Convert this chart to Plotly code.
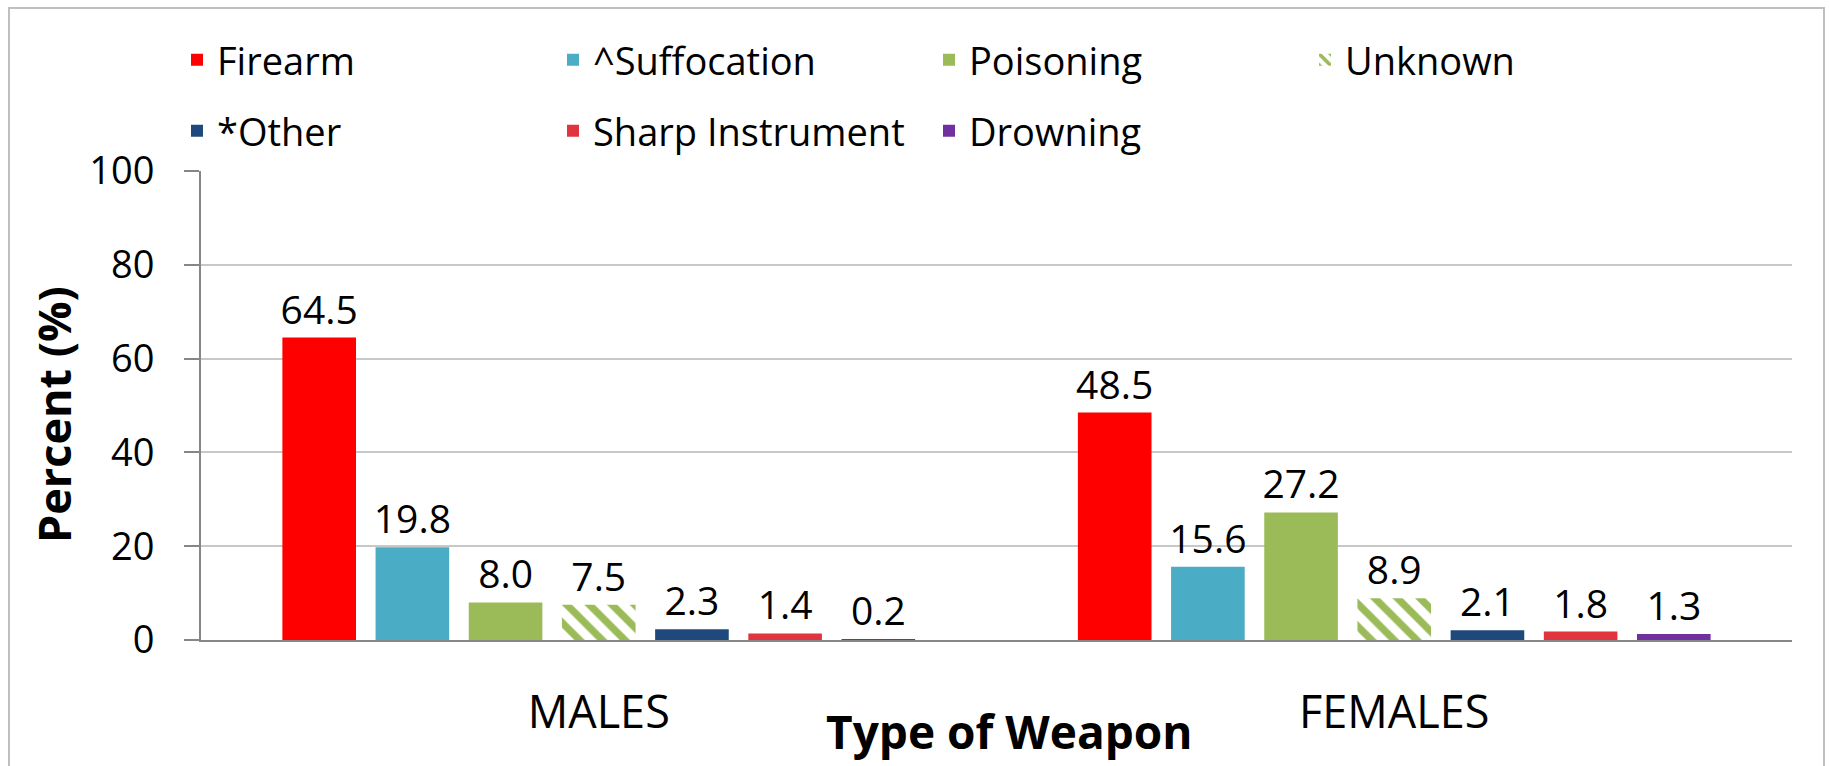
import plotly.graph_objects as go

categories = ["MALES", "FEMALES"]
series_names = ["Firearm", "^Suffocation", "Poisoning", "Unknown", "*Other", "Sharp Instrument", "Drowning"]
firearm = [64.5, 48.5]
suffocation = [19.8, 15.6]
poisoning = [8.0, 27.2]
unknown = [7.5, 8.9]
other = [2.3, 2.1]
sharp = [1.4, 1.8]
drowning = [0.2, 1.3]
values = [firearm, suffocation, poisoning, unknown, other, sharp, drowning]
colors = ["#FF0000", "#4BACC6", "#9BBB59", "#9BBB59", "#1F497D", "#E0343F", "#7030A0"]
legend_rows = ["legend", "legend", "legend", "legend", "legend2", "legend2", "legend2"]
y_ticks = [0, 20, 40, 60, 80, 100]

W, H = 1829, 766
ML, MR, MT, MB = 201, 37, 171, 126
PW, PH = W - ML - MR, H - MT - MB

def px_x(p):
    return (p - ML) / PW

def px_y(p):
    return (H - MB - p) / PH

FONT = "Open Sans"

fig = go.Figure()
for name, vals, col, lg in zip(series_names, values, colors, legend_rows):
    marker = dict(color=col, line=dict(width=0))
    if name == "Unknown":
        marker = dict(color="white", line=dict(width=0),
                      pattern=dict(shape="\\", fgcolor=col, bgcolor="white", fgopacity=1,
                                   size=16, solidity=0.45, fillmode="overlay"))
    fig.add_trace(go.Bar(
        name=name, x=categories, y=vals, marker=marker,
        text=[f"{v:.1f}" for v in vals], textposition="outside",
        textfont=dict(size=39, color="black", family=FONT),
        constraintext="none", cliponaxis=False, legend=lg,
    ))

legend_common = dict(orientation="h", xanchor="left", yanchor="middle",
                     entrywidth=331, entrywidthmode="pixels",
                     font=dict(size=38, color="black", family=FONT),
                     bgcolor="rgba(0,0,0,0)", borderwidth=0, traceorder="normal")

fig.update_layout(
    width=W, height=H,
    margin=dict(l=ML, r=MR, t=MT, b=MB, pad=0),
    paper_bgcolor="white", plot_bgcolor="white",
    barmode="group", bargap=0.18, bargroupgap=0.21,
    font=dict(family=FONT, color="black"),
    showlegend=True,
    legend=dict(x=px_x(177), y=px_y(60), **legend_common),
    legend2=dict(x=px_x(177), y=px_y(131), **legend_common),
    xaxis=dict(showline=True, linecolor="#868686", linewidth=2, ticks="",
               showgrid=False, zeroline=False,
               tickfont=dict(size=45, color="black", family=FONT),
               ticklabelstandoff=32),
    yaxis=dict(range=[0, 100], tickvals=y_ticks, showline=True, linecolor="#868686",
               linewidth=2, ticks="outside", ticklen=15, tickwidth=2, tickcolor="#868686",
               showgrid=True, gridcolor="#c8c8c8", gridwidth=1.5, zeroline=False,
               tickfont=dict(size=38, color="black", family=FONT),
               ticklabelstandoff=22),
    annotations=[
        dict(text="<b>Percent (%)</b>", xref="paper", yref="paper", x=px_x(53), y=px_y(415),
             xanchor="center", yanchor="middle", textangle=-90, showarrow=False,
             font=dict(size=45, color="black", family=FONT)),
        dict(text="<b>Type of Weapon</b>", xref="paper", yref="paper", x=px_x(1009), y=px_y(731),
             xanchor="center", yanchor="middle", showarrow=False,
             font=dict(size=46, color="black", family=FONT)),
    ],
    shapes=[
        dict(type="rect", xref="paper", yref="paper", x0=px_x(9), x1=px_x(1824),
             y0=px_y(8), y1=px_y(H + 10), line=dict(color="#bfbfbf", width=2),
             fillcolor="rgba(0,0,0,0)", layer="below"),
    ],
)

fig.write_html("out.html", config={"displayModeBar": False},
               post_script="document.body.style.margin='0';document.body.style.overflow='hidden';")
